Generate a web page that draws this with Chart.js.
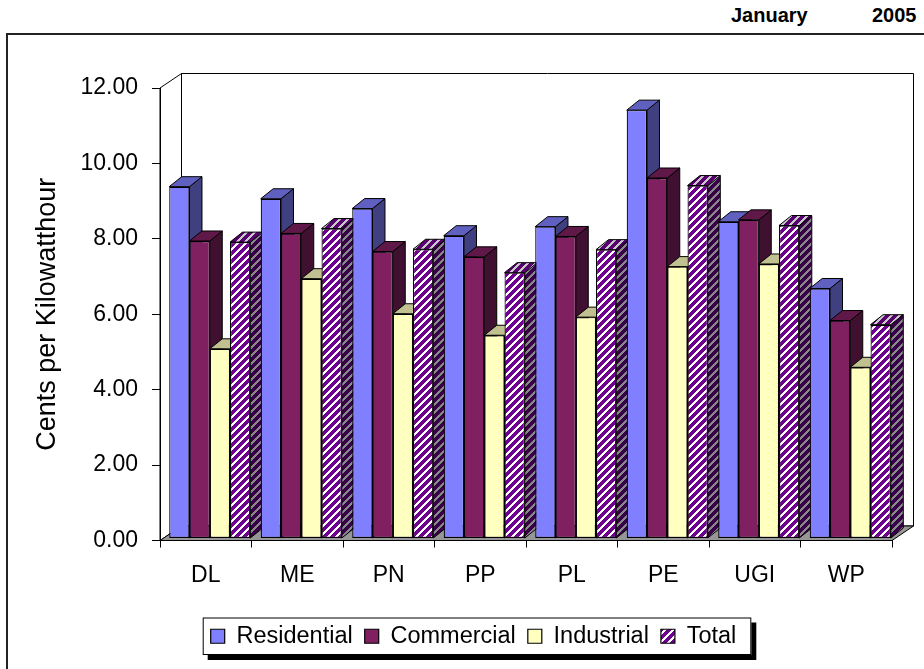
<!DOCTYPE html>
<html>
<head>
<meta charset="utf-8">
<script src="https://cdn.jsdelivr.net/npm/chart.js@4.4.0/dist/chart.umd.min.js"></script>
<style>
  html, body { margin: 0; padding: 0; background: #fff; }
  #wrap { position: relative; width: 924px; height: 669px; overflow: hidden; }
  #frame { position: absolute; left: 6px; top: 33px; width: 960px; height: 700px; border-left: 2px solid #222; border-top: 2px solid #222; box-sizing: border-box; }
  .stamp { position: absolute; top: 5px; font: bold 20px Arial, "Liberation Sans", sans-serif; line-height: 20px; color: #000; }
  #chart { position: absolute; left: 0; top: 0; }
</style>
</head>
<body>
<div id="wrap">
  <div id="frame"></div>
  <div class="stamp" style="left:731px">January</div>
  <div class="stamp" style="left:872px">2005</div>
  <canvas id="chart" width="924" height="669"></canvas>
</div>
<script>
const categories = ['DL', 'ME', 'PN', 'PP', 'PL', 'PE', 'UGI', 'WP'];
const residential = [9.33, 9.01, 8.75, 8.03, 8.27, 11.36, 8.40, 6.63];
const commercial = [7.89, 8.09, 7.61, 7.47, 8.01, 9.56, 8.45, 5.78];
const industrial = [5.03, 6.89, 5.96, 5.39, 5.87, 7.21, 7.28, 4.54];
const total = [7.86, 8.22, 7.67, 7.05, 7.66, 9.36, 8.30, 5.67];
const seriesNames = ['Residential', 'Commercial', 'Industrial', 'Total'];
const yMax = 12;
const yStep = 2;

const FONT = 'Arial, "Liberation Sans", sans-serif';
const canvas = document.getElementById('chart');
const ctx = canvas.getContext('2d');

// diagonal "/" stripes like the Excel wide upward diagonal fill
function stripes(fg, bg) {
    const c = document.createElement('canvas');
    c.width = c.height = 8;
    const g = c.getContext('2d');
    g.fillStyle = bg;
    g.fillRect(0, 0, 8, 8);
    g.fillStyle = fg;
    for (let y = 0; y < 8; y++) {
        for (let x = 0; x < 8; x++) {
            if ((x + y) % 8 < 5) g.fillRect(x, y, 1, 1);
        }
    }
    return ctx.createPattern(c, 'repeat');
}

const faces = [
    { front: '#8080ff', top: '#6060c0', side: '#404080' },
    { front: '#802060', top: '#601848', side: '#401030' },
    { front: '#ffffc0', top: '#c0c090', side: '#808060' },
    { front: stripes('#700090', '#ffffff'), top: stripes('#580070', '#c8c8c8'), side: stripes('#380048', '#888888') }
];
const seriesData = [residential, commercial, industrial, total];

const SHIFT = { x: 4, y: -2 };          // bars stand a bit behind the front plane
const BAR_DEPTH = { x: 12.5, y: -10 };
const WALL_DEPTH = { x: 21.5, y: -14.5 };

function poly(c, pts, fill) {
    c.beginPath();
    c.moveTo(pts[0][0], pts[0][1]);
    for (let i = 1; i < pts.length; i++) c.lineTo(pts[i][0], pts[i][1]);
    c.closePath();
    c.fillStyle = fill;
    c.fill();
    c.stroke();
}

const box3d = {
    id: 'box3d',
    beforeDraw(chart) {
        const c = chart.ctx;
        const a = chart.chartArea;
        const dx = WALL_DEPTH.x, dy = WALL_DEPTH.y;
        c.save();
        c.lineWidth = 1;
        c.strokeStyle = '#000';
        // walls and floor
        poly(c, [[a.left + dx, a.top + dy], [a.right + dx, a.top + dy], [a.right + dx, a.bottom + dy], [a.left + dx, a.bottom + dy]], '#fff');
        poly(c, [[a.left, a.top], [a.left + dx, a.top + dy], [a.left + dx, a.bottom + dy], [a.left, a.bottom]], '#fff');
        poly(c, [[a.left, a.bottom], [a.right, a.bottom], [a.right + dx, a.bottom + dy], [a.left + dx, a.bottom + dy]], '#969696');

        // legend frame with its drop shadow
        const hb = chart.legend.legendHitBoxes;
        if (hb && hb.length) {
            const last = hb[hb.length - 1];
            const l = hb[0].left - 8, r = last.left + last.width + 15;
            const t = hb[0].top - 7, b = hb[0].top + hb[0].height + 7;
            c.fillStyle = '#000';
            c.fillRect(l + 5, t + 5, r - l, b - t);
            c.fillStyle = '#fff';
            c.fillRect(l, t, r - l, b - t);
            c.strokeRect(l + 0.5, t + 0.5, r - l - 1, b - t - 1);
        }
        c.restore();
    },
    beforeDatasetsDraw(chart) {
        const c = chart.ctx;
        const bars = [];
        chart.data.datasets.forEach((ds, d) => {
            chart.getDatasetMeta(d).data.forEach(el => bars.push({ el, d }));
        });
        bars.sort((p, q) => p.el.x - q.el.x);
        c.save();
        c.lineWidth = 1;
        c.strokeStyle = '#000';
        c.lineJoin = 'round';
        const dx = BAR_DEPTH.x, dy = BAR_DEPTH.y;
        bars.forEach(({ el, d }) => {
            const { x, y, base, width } = el.getProps(['x', 'y', 'base', 'width'], true);
            const l = x - width / 2 + SHIFT.x, r = x + width / 2 + SHIFT.x;
            const t = y + SHIFT.y, b = base + SHIFT.y;
            poly(c, [[r, t], [r + dx, t + dy], [r + dx, b + dy], [r, b]], faces[d].side);
            poly(c, [[l, t], [r, t], [r + dx, t + dy], [l + dx, t + dy]], faces[d].top);
        });
        c.restore();
        // front faces are drawn by Chart.js, pushed back by the same shift
        c.save();
        c.translate(SHIFT.x, SHIFT.y);
    },
    afterDatasetsDraw(chart) {
        chart.ctx.restore();
    }
};

new Chart(ctx, {
    type: 'bar',
    data: {
        labels: categories,
        datasets: seriesNames.map((name, d) => ({
            label: name,
            data: seriesData[d],
            backgroundColor: faces[d].front,
            borderColor: '#000',
            borderWidth: 1.2,
            borderSkipped: false,
            categoryPercentage: 0.886,
            barPercentage: 1,
            clip: false
        }))
    },
    options: {
        responsive: false,
        animation: false,
        layout: { padding: { left: 55, right: 32, top: 88, bottom: 11 } },
        plugins: {
            tooltip: { enabled: false },
            legend: {
                position: 'bottom',
                labels: {
                    boxWidth: 14,
                    boxHeight: 14,
                    padding: 12,
                    color: '#000',
                    font: { size: 23.5, family: FONT }
                }
            }
        },
        scales: {
            x: {
                offset: true,
                grid: { offset: true, drawOnChartArea: false, drawTicks: true, tickLength: 7, color: '#000' },
                border: { color: '#000' },
                ticks: { color: '#000', font: { size: 23, family: FONT }, padding: 14 },
                afterFit: s => { s.height = 72; }
            },
            y: {
                min: 0,
                max: yMax,
                ticks: {
                    stepSize: yStep,
                    color: '#000',
                    padding: 14,
                    font: { size: 23, family: FONT },
                    callback: v => v.toFixed(2)
                },
                grid: { drawOnChartArea: false, drawTicks: true, tickLength: 8, color: '#000' },
                border: { color: '#000' },
                title: {
                    display: true,
                    text: 'Cents per Kilowatthour',
                    color: '#000',
                    font: { size: 27, family: FONT },
                    padding: { top: -24, bottom: 0 }
                },
                afterFit: s => { s.width = 105; }
            }
        }
    },
    plugins: [box3d]
});
</script>
</body>
</html>
